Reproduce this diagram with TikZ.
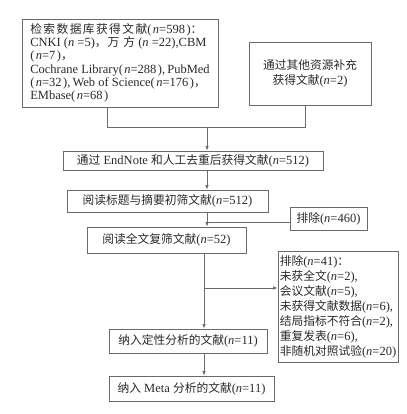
\documentclass[tikz,border=0pt]{standalone}
\usepackage{fontspec}
\setmainfont{Liberation Serif}
\newfontfamily\cjk[Scale=0.94]{Noto Sans CJK SC}
\newfontfamily\cjkw[Scale=0.94,LetterSpace=12]{Noto Sans CJK SC}
\usetikzlibrary{arrows.meta}
\newcommand\C[1]{{\cjk #1}}
\newcommand\W[1]{{\cjkw #1}}
\newcommand\nn{\textit{n}}
\newcommand\pn[1]{(\kern1.5pt#1\kern1.5pt)}
\definecolor{ln}{HTML}{6A6A6A}
\definecolor{tx}{HTML}{2A2A2A}
\begin{document}
\begin{tikzpicture}[x=1pt,y=-1pt,
  box/.style={draw=ln, line width=0.8pt, inner sep=0pt, text=tx, font=\fontsize{12.5}{13.3}\selectfont},
  conn/.style={draw=ln, line width=0.8pt},
  arr/.style={conn, -{Latex[length=4.5pt,width=3.5pt]}}]
\useasboundingbox[fill=white] (0,0) rectangle (406,414);
\node[box, minimum width=196pt, minimum height=88pt, align=left] (b1) at (120,63)
 {\W{检索数据库获得文献}\pn{\nn=598}\C{：}\\
  CNKI\ (\nn\ =5)\C{，}\kern1pt\C{万}\kern4pt\C{方}\ (\nn\ =22),CBM\\
  \pn{\nn=7}\C{，}\\
  Cochrane Library\pn{\nn=288},\,PubMed\\
  \pn{\nn=32},\,Web of Science\pn{\nn=176}\C{，}\\
  EMbase\pn{\nn=68}};
\node[box, minimum width=122pt, minimum height=63pt, align=center, font=\fontsize{12.5}{15}\selectfont] (b2) at (310,73.5)
 {\C{通过其他资源补充}\\\C{获得文献}(\nn=2)};
\node[box, minimum width=260pt, minimum height=19pt] (b3) at (193,160.5)
 {\C{通过} EndNote \C{和人工去重后获得文献}(\nn=512)};
\node[box, minimum width=201pt, minimum height=22pt] (b4) at (167.5,201)
 {\C{阅读标题与摘要初筛文献}(\nn=512)};
\node[box, minimum width=77pt, minimum height=23pt] (e1) at (328.5,218.5)
 {\C{排除}(\nn=460)};
\node[box, minimum width=159pt, minimum height=26pt] (b5) at (166.5,240)
 {\C{阅读全文复筛文献}(\nn=52)};
\node[box, minimum width=120pt, minimum height=111pt, align=left, font=\fontsize{12.5}{15}\selectfont] (e2) at (338,306.5)
 {\C{排除}(\nn=41)\C{：}\\
  \C{未获全文}(\nn=2),\\
  \C{会议文献}(\nn=5),\\
  \C{未获得文献数据}(\nn=6),\\
  \C{结局指标不符合}(\nn=2),\\
  \C{重复发表}(\nn=6),\\
  \C{非随机对照试验}(\nn=20)};
\node[box, minimum width=158pt, minimum height=24pt] (b6) at (188,341)
 {\C{纳入定性分析的文献}(\nn=11)};
\node[box, minimum width=165pt, minimum height=25pt] (b7) at (191.5,388.5)
 {\C{纳入} Meta \C{分析的文献}(\nn=11)};
\coordinate (j1) at (107,127);
\coordinate (j2) at (305,127);
\coordinate (j) at (207,127);
\coordinate (k) at (207,222);
\coordinate (m) at (204,288);
\draw[conn] (b1.south -| j1) -- (j1) -- (j2) -- (b2.south -| j2);
\draw[arr] (j) -- (j |- b3.north);
\draw[arr] (b3.south -| j) -- (b4.north -| j);
\draw[arr] (b4.south -| j) -- (b5.north -| j);
\draw[conn] (k) -- (k -| e1.west);
\draw[arr] (b5.south -| m) -- (b6.north -| m);
\draw[arr] (m) -- (m -| e2.west);
\draw[arr] (b6.south -| m) -- (b7.north -| m);
\end{tikzpicture}
\end{document}
